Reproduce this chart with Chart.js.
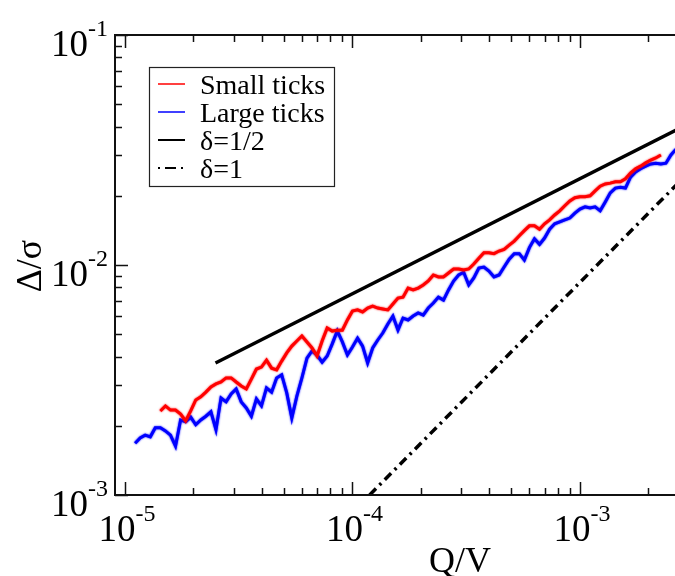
<!DOCTYPE html>
<html>
<head>
<meta charset="UTF-8">
<title>Δ/σ vs Q/V</title>
<script src="https://cdn.jsdelivr.net/npm/chart.js"></script>
<style>
  html, body { margin: 0; padding: 0; overflow: hidden; background: #fff; }
  #wrap { width: 720px; height: 576px; }
</style>
</head>
<body>
<div id="wrap"><canvas id="plot" width="720" height="576"></canvas></div>
<script>
// Q/V sample positions shared by both runs
const qv = [
  1.108e-5, 1.166e-5, 1.227e-5, 1.292e-5, 1.359e-5, 1.431e-5, 1.506e-5, 1.585e-5, 1.668e-5, 1.756e-5,
  1.848e-5, 1.945e-5, 2.047e-5, 2.154e-5, 2.268e-5, 2.387e-5, 2.512e-5, 2.644e-5, 2.783e-5, 2.929e-5,
  3.082e-5, 3.244e-5, 3.415e-5, 3.594e-5, 3.783e-5, 3.981e-5, 4.190e-5, 4.410e-5, 4.642e-5, 4.885e-5,
  5.142e-5, 5.412e-5, 5.696e-5, 5.995e-5, 6.310e-5, 6.641e-5, 6.989e-5, 7.356e-5, 7.743e-5, 8.149e-5,
  8.577e-5, 9.027e-5, 9.501e-5,
  1.000e-4, 1.053e-4, 1.108e-4, 1.166e-4, 1.227e-4, 1.292e-4, 1.359e-4, 1.431e-4, 1.506e-4, 1.585e-4,
  1.668e-4, 1.756e-4, 1.848e-4, 1.945e-4, 2.047e-4, 2.154e-4, 2.268e-4, 2.387e-4, 2.512e-4, 2.644e-4,
  2.783e-4, 2.929e-4, 3.082e-4, 3.244e-4, 3.415e-4, 3.594e-4, 3.783e-4, 3.981e-4, 4.190e-4, 4.410e-4,
  4.642e-4, 4.885e-4, 5.142e-4, 5.412e-4, 5.696e-4, 5.995e-4, 6.310e-4, 6.641e-4, 6.989e-4, 7.356e-4,
  7.743e-4, 8.149e-4, 8.577e-4, 9.027e-4, 9.501e-4,
  1.000e-3, 1.053e-3, 1.108e-3, 1.166e-3, 1.227e-3, 1.292e-3, 1.359e-3, 1.431e-3, 1.506e-3, 1.585e-3,
  1.668e-3, 1.756e-3, 1.848e-3, 1.945e-3, 2.047e-3, 2.154e-3, 2.268e-3, 2.387e-3, 2.512e-3, 2.644e-3
];

// Δ/σ, small ticks (red)
const smallTicks = [
  null, null, null, null, null,
  0.00232, 0.00244, 0.00234, 0.00234, 0.00225, 0.00210, 0.00232, 0.00259, 0.00267, 0.00280,
  0.00295, 0.00304, 0.00310, 0.00323, 0.00323, 0.00310, 0.00298, 0.00289, 0.00319, 0.00353,
  0.00360, 0.00386, 0.00356, 0.00350, 0.00382, 0.00415, 0.00444, 0.00467, 0.00491, 0.00463,
  0.00436, 0.00402, 0.00467, 0.00532, 0.00516, 0.00521, 0.00521, 0.00577, 0.00631, 0.00638,
  0.00625, 0.00650, 0.00663, 0.00650, 0.00644, 0.00638, 0.00677, 0.00718, 0.00725, 0.00794,
  0.00779, 0.00794, 0.00819, 0.00852, 0.00905, 0.00887, 0.00887, 0.00923, 0.00961, 0.00961,
  0.00951, 0.00961, 0.0101, 0.0107, 0.0113, 0.0113, 0.0112, 0.0115, 0.0117, 0.0122,
  0.0127, 0.0134, 0.0141, 0.0148, 0.0148, 0.0143, 0.0151, 0.0157, 0.0165, 0.0172,
  0.0181, 0.0190, 0.0196, 0.0198, 0.0198, 0.0200, 0.0210, 0.0220, 0.0225, 0.0227,
  0.0230, 0.0230, 0.0237, 0.0251, 0.0262, 0.0269, 0.0278, 0.0286, 0.0292, 0.0301,
  null, null, null
];

// Δ/σ, large ticks (blue)
const largeTicks = [
  0.00168, 0.00177, 0.00182, 0.00179, 0.00196, 0.00196, 0.00190, 0.00182, 0.00163, 0.00212,
  0.00208, 0.00218, 0.00202, 0.00212, 0.00220, 0.00230, 0.00192, 0.00264, 0.00254, 0.00275,
  0.00289, 0.00254, 0.00239, 0.00220, 0.00262, 0.00244, 0.00292, 0.00280, 0.00323, 0.00333,
  0.00278, 0.00216, 0.00269, 0.00323, 0.00394, 0.00423, 0.00406, 0.00378, 0.00402, 0.00454,
  0.00517, 0.00463, 0.00406, 0.00440, 0.00481, 0.00444, 0.00375, 0.00436, 0.00472, 0.00506,
  0.00554, 0.00600, 0.00521, 0.00588, 0.00577, 0.00600, 0.00619, 0.00606, 0.00650, 0.00683,
  0.00725, 0.00704, 0.00779, 0.00852, 0.00905, 0.00930, 0.00819, 0.00878, 0.00970, 0.00980,
  0.00941, 0.00887, 0.00905, 0.00980, 0.0106, 0.0112, 0.0112, 0.0105, 0.0119, 0.0130,
  0.0123, 0.0131, 0.0143, 0.0151, 0.0154, 0.0157, 0.0160, 0.0168, 0.0175, 0.0179,
  0.0177, 0.0179, 0.0172, 0.0188, 0.0206, 0.0216, 0.0218, 0.0216, 0.0241, 0.0254,
  0.0262, 0.0269, 0.0275, 0.0277, 0.0275, 0.0277, 0.0301, 0.0319
];

// guide lines, end points only
const halfX = [2.5e-5, 3e-3];
const halfY = [0.00375, 0.0411];
const oneX = [1.19e-4, 3e-3];
const oneY = [0.001, 0.0252];

// axis ranges and decade labels
const xRange = [9.04e-6, 3e-3];
const yRange = [1e-3, 1e-1];
const xDecades = [1e-5, 1e-4, 1e-3];
const xExps = ['-5', '-4', '-3'];
const yDecades = [1e-3, 1e-2, 1e-1];
const yExps = ['-3', '-2', '-1'];

const legendItems = ['Small ticks', 'Large ticks', 'δ=1/2', 'δ=1'];

const SERIF = '"Liberation Serif", "Times New Roman", serif';
const pts = (xs, ys) => xs.map((x, i) => ({ x: x, y: ys[i] }));

function logTicks(min, max) {
  const out = [];
  for (let e = -7; e <= 0; e++) {
    for (let m = 1; m <= 9; m++) {
      const v = m * Math.pow(10, e);
      if (v >= min * 0.999 && v <= max * 1.001) out.push({ v: v, major: m === 1 });
    }
  }
  return out;
}

// "10" with a raised exponent
function power(ctx, exp, x, y, align) {
  ctx.font = '37px ' + SERIF;
  const wBase = ctx.measureText('10').width;
  ctx.font = '24px ' + SERIF;
  const wExp = ctx.measureText(exp).width;
  let left = align === 'right' ? x - wBase - wExp : x - (wBase + wExp) / 2;
  ctx.textAlign = 'left';
  ctx.textBaseline = 'alphabetic';
  ctx.font = '37px ' + SERIF;
  ctx.fillText('10', left, y);
  ctx.font = '24px ' + SERIF;
  ctx.fillText(exp, left + wBase, y - 20);
}

// the measured runs look slightly smeared, give them a soft edge
const softRuns = {
  id: 'softRuns',
  beforeDatasetDraw(chart, args) {
    if (args.index > 1) return;
    const ctx = chart.ctx;
    ctx.save();
    ctx.shadowColor = chart.data.datasets[args.index].borderColor;
    ctx.shadowBlur = 2;
  },
  afterDatasetDraw(chart, args) {
    if (args.index > 1) return;
    chart.ctx.restore();
  }
};

const axesFrame = {
  id: 'axesFrame',
  afterDatasetsDraw(chart) {
    const { ctx, chartArea: a, scales: { x, y } } = chart;
    ctx.save();
    ctx.strokeStyle = '#111';
    ctx.lineWidth = 2;
    ctx.strokeRect(a.left, a.top, a.right - a.left, a.bottom - a.top);

    ctx.lineWidth = 1.5;
    ctx.beginPath();
    logTicks(x.min, x.max).forEach(t => {
      const px = Math.round(x.getPixelForValue(t.v)) + 0.5;
      const len = t.major ? 13 : 7;
      ctx.moveTo(px, a.bottom); ctx.lineTo(px, a.bottom - len);
      ctx.moveTo(px, a.top); ctx.lineTo(px, a.top + len);
    });
    logTicks(y.min, y.max).forEach(t => {
      const py = Math.round(y.getPixelForValue(t.v)) + 0.5;
      const len = t.major ? 13 : 7;
      ctx.moveTo(a.left, py); ctx.lineTo(a.left + len, py);
      ctx.moveTo(a.right, py); ctx.lineTo(a.right - len, py);
    });
    ctx.stroke();

    ctx.fillStyle = '#000';
    xDecades.forEach((v, i) => power(ctx, xExps[i], x.getPixelForValue(v) + 2, a.bottom + 46, 'center'));
    yDecades.forEach((v, i) => power(ctx, yExps[i], 108, y.getPixelForValue(v) + 21, 'right'));

    // axis titles
    ctx.font = '36px ' + SERIF;
    ctx.textAlign = 'center';
    ctx.textBaseline = 'alphabetic';
    ctx.fillText('Q/V', 460, 572);
    ctx.save();
    ctx.translate(41, 266);
    ctx.rotate(-Math.PI / 2);
    ctx.fillText('Δ/σ', 0, 0);
    ctx.restore();
    ctx.restore();
  },
  afterDraw(chart) {
    const ctx = chart.ctx;
    ctx.save();
    ctx.fillStyle = '#fff';
    ctx.fillRect(149, 67, 186, 120);
    ctx.strokeStyle = '#222';
    ctx.lineWidth = 1.2;
    ctx.strokeRect(149.5, 67.5, 185, 119);

    const rows = [84, 112, 140, 168];
    chart.data.datasets.forEach((ds, i) => {
      ctx.beginPath();
      ctx.strokeStyle = ds.borderColor;
      ctx.lineWidth = i < 2 ? 1.5 : 2;
      ctx.setLineDash(i === 3 ? [2, 5, 11, 5, 2] : []);
      ctx.moveTo(158, rows[i]);
      ctx.lineTo(185, rows[i]);
      ctx.stroke();
    });
    ctx.setLineDash([]);
    ctx.fillStyle = '#000';
    ctx.font = '28px ' + SERIF;
    ctx.textAlign = 'left';
    ctx.textBaseline = 'alphabetic';
    legendItems.forEach((t, i) => ctx.fillText(t, 200, rows[i] + 10));
    ctx.restore();
  }
};

new Chart(document.getElementById('plot'), {
  type: 'scatter',
  data: {
    datasets: [
      { label: legendItems[0], data: pts(qv, smallTicks), borderColor: '#ff0000', borderWidth: 3, showLine: true, pointRadius: 0 },
      { label: legendItems[1], data: pts(qv, largeTicks), borderColor: '#0000ff', borderWidth: 3, showLine: true, pointRadius: 0 },
      { label: legendItems[2], data: pts(halfX, halfY), borderColor: '#000000', borderWidth: 3.5, showLine: true, pointRadius: 0 },
      { label: legendItems[3], data: pts(oneX, oneY), borderColor: '#000000', borderWidth: 3.5, borderDash: [9, 5, 2.5, 5], showLine: true, pointRadius: 0 }
    ]
  },
  options: {
    responsive: false,
    animation: false,
    events: [],
    layout: { autoPadding: false, padding: { left: 115, top: 35, right: 31.5, bottom: 81 } },
    scales: {
      x: { type: 'logarithmic', min: xRange[0], max: xRange[1], display: false },
      y: { type: 'logarithmic', min: yRange[0], max: yRange[1], display: false }
    },
    plugins: { legend: { display: false }, tooltip: { enabled: false }, title: { display: false } }
  },
  plugins: [softRuns, axesFrame]
});
</script>
</body>
</html>
